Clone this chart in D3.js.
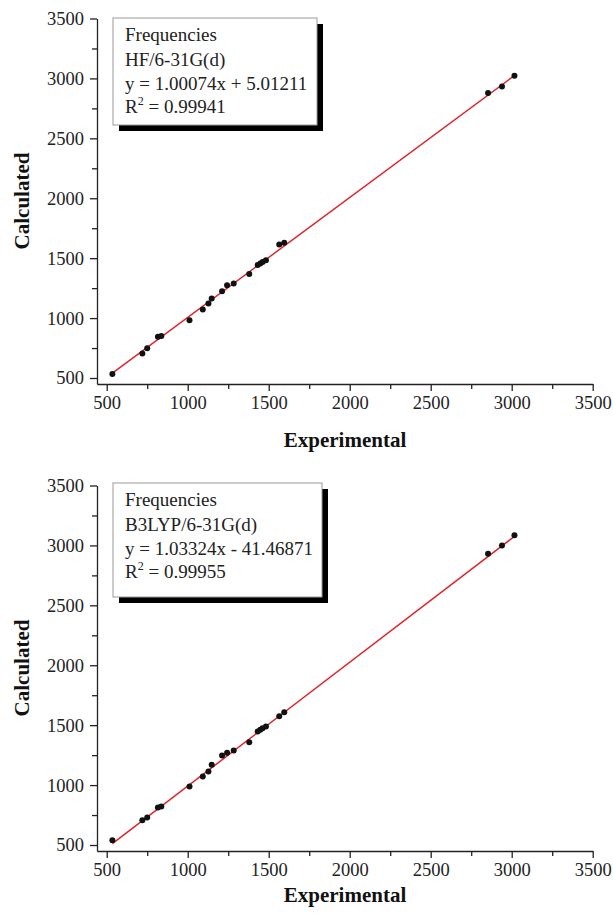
<!DOCTYPE html>
<html lang="en">
<head>
<meta charset="UTF-8">
<title>Frequencies</title>
<style>
body{margin:0;background:#fff}
svg{display:block;font-family:"Liberation Serif","Times New Roman",serif}
svg text{font-family:"Liberation Serif","Times New Roman",serif}
</style>
</head>
<body>
<svg id="chart" width="613" height="915"></svg>
<script src="https://cdn.jsdelivr.net/npm/d3@7"></script>
<script>
// experimental vs calculated frequencies (cm-1)
var experimental=[535,720,750,816,837,1011,1093,1128,1148,1212,1243,1284,1380,1432,1448,1462,1483,1565,1596,2854,2940,3017]
var calcHF=[533,705,748,844,850,983,1072,1122,1164,1225,1275,1289,1367,1442,1456,1469,1483,1614,1628,2878,2933,3022]
var calcB3LYP=[539,707,729,813,821,989,1072,1114,1170,1246,1269,1288,1357,1447,1461,1475,1489,1575,1608,2930,3000,3085]
var majorTicks=[500,1000,1500,2000,2500,3000,3500]
var minorTicks=[750,1250,1750,2250,2750,3250]
var panels=[
  {calc:calcHF,method:'HF/6-31G(d)',slope:1.00074,icpt:5.01211,eq:'y = 1.00074x + 5.01211',r2:'0.99941'},
  {calc:calcB3LYP,method:'B3LYP/6-31G(d)',slope:1.03324,icpt:-41.46871,eq:'y = 1.03324x - 41.46871',r2:'0.99955'}
]

var svg=d3.select('#chart')
var x=d3.scaleLinear().domain([440,3500]).range([97,592.7])
var fmt=d3.format('d')

function drawPanel(p,i){
  var top=i*467
  var g=svg.append('g').attr('transform','translate(0,'+top+')')
  var y=d3.scaleLinear().domain([450,3500]).range([384,18.5])

  // axes
  g.append('g').attr('transform','translate(0,384)')
    .call(d3.axisBottom(x).tickValues(majorTicks).tickFormat(fmt).tickSize(7).tickSizeOuter(0).tickPadding(5))
  g.append('g').attr('transform','translate(0,384)')
    .call(d3.axisBottom(x).tickValues(minorTicks).tickSize(5).tickFormat(''))
    .select('.domain').remove()
  g.append('g').attr('transform','translate(97,0)')
    .call(d3.axisLeft(y).tickValues(majorTicks).tickFormat(fmt).tickSize(7).tickSizeOuter(0).tickPadding(6))
  g.append('g').attr('transform','translate(97,0)')
    .call(d3.axisLeft(y).tickValues(minorTicks).tickSize(5).tickFormat(''))
    .select('.domain').remove()
  g.selectAll('g').attr('font-family',null).attr('font-size',null)
  g.selectAll('.tick line,.domain').attr('stroke','#222').attr('stroke-width',1.3)
  g.selectAll('.tick text').attr('font-size',18.5).attr('fill','#222')

  g.append('text').attr('x',345).attr('y',i==0?447:435).attr('text-anchor','middle')
    .attr('font-size',21).attr('font-weight','bold').attr('fill','#111').text('Experimental')
  g.append('text').attr('transform','translate(29,201) rotate(-90)').attr('text-anchor','middle')
    .attr('font-size',21).attr('font-weight','bold').attr('fill','#111').text('Calculated')

  // fit line
  var ext=d3.extent(experimental)
  g.append('line')
    .attr('x1',x(ext[0])).attr('y1',y(p.slope*ext[0]+p.icpt))
    .attr('x2',x(ext[1])).attr('y2',y(p.slope*ext[1]+p.icpt))
    .attr('stroke','#e0242e').attr('stroke-width',1.5)

  // points
  g.selectAll('circle').data(experimental).enter().append('circle')
    .attr('cx',d=>x(d)).attr('cy',(d,k)=>y(p.calc[k])).attr('r',3).attr('fill','#111')

  // legend box with shadow
  var bw=i==0?204:209,bh=i==0?107:114,by=i==0?18:16
  var lg=g.append('g').attr('transform','translate(113,'+by+')')
  lg.append('rect').attr('x',6).attr('y',6).attr('width',bw).attr('height',bh).attr('fill','#000')
  lg.append('rect').attr('width',bw).attr('height',bh).attr('fill','#fff').attr('stroke','#999').attr('stroke-width',1)
  var lines=['Frequencies',p.method,p.eq]
  lg.selectAll('text.l').data(lines).enter().append('text').attr('class','l')
    .attr('x',12).attr('y',(d,k)=>23+k*24.5).attr('font-size',19).attr('fill','#222').text(d=>d)
  var r=lg.append('text').attr('x',12).attr('y',95).attr('font-size',19).attr('fill','#222')
  r.append('tspan').text('R')
  r.append('tspan').attr('dy',-8).attr('font-size',12).text('2')
  r.append('tspan').attr('dy',8).text(' = '+p.r2)
}
panels.forEach(drawPanel)
</script>
</body>
</html>
